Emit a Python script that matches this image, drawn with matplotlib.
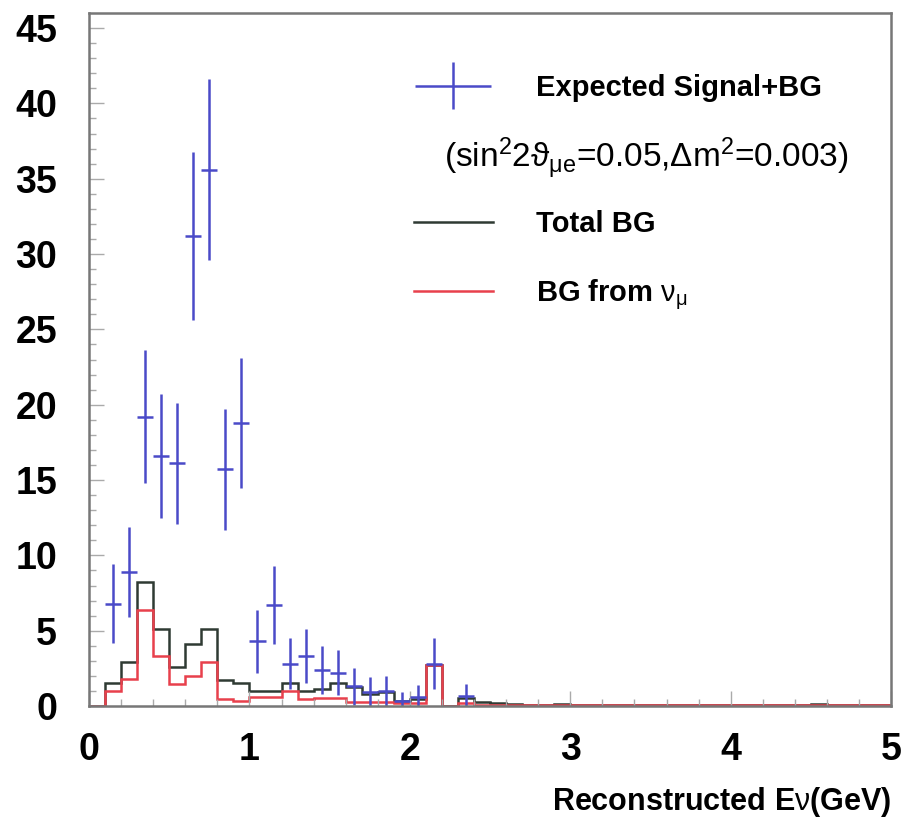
import numpy as np
import matplotlib
matplotlib.use("Agg")
import matplotlib.pyplot as plt
from matplotlib.lines import Line2D
from matplotlib.legend_handler import HandlerErrorbar
from matplotlib.container import ErrorbarContainer

plt.rcParams['font.family'] = ['Liberation Sans', 'DejaVu Sans']
plt.rcParams['mathtext.fontset'] = 'custom'
plt.rcParams['mathtext.rm'] = 'Liberation Sans'
plt.rcParams['mathtext.it'] = 'Liberation Sans'

# histogram bin edges (GeV)
edges = np.round(np.arange(0, 5.01, 0.1), 2)

# total background per bin
total_bg = [0.0, 1.55, 2.9, 8.2, 5.1, 2.6, 4.1, 5.1, 1.7, 1.55,
            1.0, 1.0, 1.55, 1.0, 1.15, 1.55, 1.25, 0.8, 0.95, 0.35,
            0.5, 2.75, 0.0, 0.55, 0.3, 0.2, 0.15, 0.1, 0.1, 0.15,
            0.1, 0.1, 0.1, 0.1, 0.1, 0.1, 0.1, 0.1, 0.1, 0.1,
            0.1, 0.1, 0.1, 0.1, 0.1, 0.15, 0.1, 0.1, 0.1, 0.1]

# background from nu_mu per bin
numu_bg = [0.0, 1.0, 1.8, 6.4, 3.35, 1.45, 2.0, 2.95, 0.5, 0.35,
           0.6, 0.6, 1.0, 0.5, 0.55, 0.55, 0.3, 0.3, 0.3, 0.2,
           0.2, 2.75, 0.0, 0.2, 0.1, 0.1, 0.05, 0.05, 0.05, 0.05,
           0.05, 0.05, 0.05, 0.05, 0.05, 0.05, 0.05, 0.05, 0.05, 0.05,
           0.05, 0.05, 0.05, 0.05, 0.05, 0.05, 0.05, 0.05, 0.05, 0.05]

# expected signal + background points
sig_x = [0.15, 0.25, 0.35, 0.45, 0.55, 0.65, 0.75, 0.85, 0.95, 1.05,
         1.15, 1.25, 1.35, 1.45, 1.55, 1.65, 1.75, 1.85, 1.95, 2.05,
         2.15, 2.35]
sig_y = [6.8, 8.9, 19.2, 16.6, 16.1, 31.2, 35.6, 15.7, 18.8, 4.3,
         6.7, 2.8, 3.3, 2.4, 2.2, 1.3, 0.9, 1.0, 0.35, 0.6,
         2.8, 0.65]
sig_err = [2.6, 3.0, 4.4, 4.1, 4.0, 5.6, 6.0, 4.0, 4.3, 2.1,
           2.6, 1.7, 1.8, 1.6, 1.5, 1.2, 1.0, 1.0, 0.6, 0.8,
           1.7, 0.8]

fig = plt.figure(figsize=(9.02, 8.32), dpi=100)
ax = fig.add_axes([0.0987, 0.1514, 0.8893, 0.833])

blue = '#4a4ac8'
dark = '#2f3a33'
red = '#e8404c'

ax.stairs(total_bg, edges, color=dark, lw=1.8, label='Total BG')
ax.stairs(numu_bg, edges, color=red, lw=1.8, label=r'BG from $\nu_{\mu}$')
eb = ax.errorbar(sig_x, sig_y, yerr=sig_err, xerr=0.05, fmt='none',
                 ecolor=blue, elinewidth=1.8, capsize=0,
                 label='Expected Signal+BG')

ax.set_xlim(0, 5)
ax.set_ylim(0, 46)
ax.set_xticks([0, 1, 2, 3, 4, 5])
ax.set_xticks(np.arange(0, 5.01, 0.2), minor=True)
ax.set_yticks(np.arange(0, 46, 5))
ax.set_yticks(np.arange(0, 46, 1), minor=True)
ax.tick_params(which='both', direction='in', color='#aaaaaa', width=1.0)
ax.tick_params(which='major', length=11)
ax.tick_params(which='minor', length=5)
ax.tick_params(axis='x', which='major', labelsize=27, pad=19)
ax.tick_params(axis='y', which='major', labelsize=27, pad=23)
for lab in ax.get_xticklabels() + ax.get_yticklabels():
    lab.set_fontweight('bold')
for s in ax.spines.values():
    s.set_color('#777777')
    s.set_linewidth(1.8)

ax.set_xlabel(r'Reconstructed E$\nu$(GeV)', loc='right', fontsize=22,
              fontweight='bold', labelpad=12)

blank = Line2D([], [], color='none')
handles = [eb, blank, ax.patches[0], ax.patches[1]]
labels = ['Expected Signal+BG', ' ', 'Total BG', r'BG from $\nu_{\mu}$']
leg = ax.legend(handles, labels, loc='upper left', bbox_to_anchor=(0.405, 0.912),
                frameon=False, fontsize=21, handlelength=2.7, handletextpad=1.5,
                labelspacing=1.37, borderpad=0, borderaxespad=0,
                handler_map={ErrorbarContainer: HandlerErrorbar(xerr_size=1.3, yerr_size=0.8)})
for t in leg.get_texts():
    t.set_fontweight('bold')

ax.text(0.443, 0.79, r'(sin$^2$2$\vartheta_{\mu e}$=0.05,$\Delta$m$^2$=0.003)',
        transform=ax.transAxes, fontsize=24, va='center', ha='left')

fig.savefig('out.png', dpi=100)
